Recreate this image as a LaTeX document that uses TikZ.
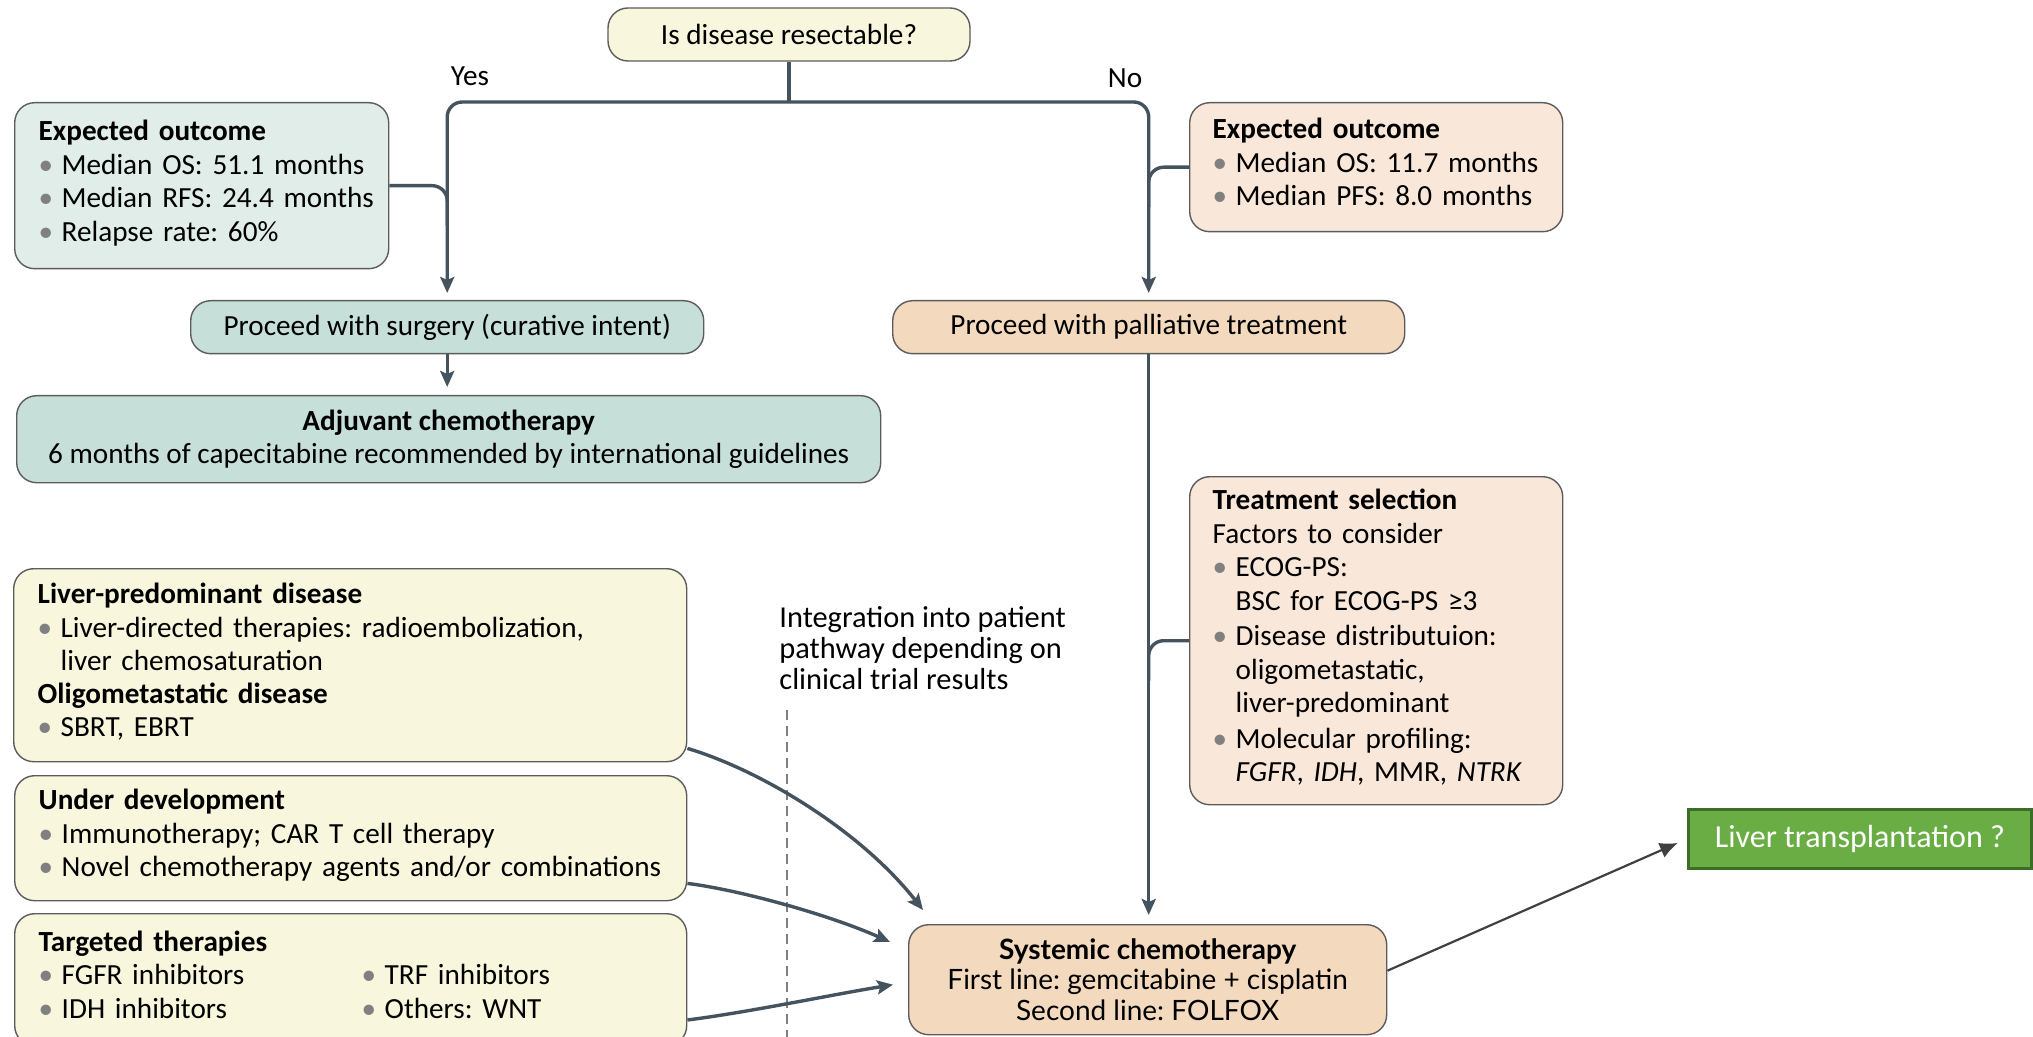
\documentclass[tikz,border=0pt]{standalone}
\usepackage{fontspec}
\setmainfont{Carlito}
\newfontfamily\latofont{Lato}
\usetikzlibrary{arrows.meta,calc}

\definecolor{flowgray}{HTML}{45535E}
\definecolor{boxline}{HTML}{5C5C5C}
\definecolor{dotgray}{HTML}{808080}
\definecolor{yellowfill}{HTML}{F8F6DC}
\definecolor{tealpale}{HTML}{E0EDE9}
\definecolor{tealfill}{HTML}{C6DFD9}
\definecolor{peachpale}{HTML}{F9E7DA}
\definecolor{peachfill}{HTML}{F3D9BE}
\definecolor{greenfill}{HTML}{6AAD45}
\definecolor{greenline}{HTML}{3C6E28}
\definecolor{arrowgray}{HTML}{404040}

\newcommand{\boxfont}{\frenchspacing\fontsize{14.6}{16.75}\selectfont}
% bullet line, later lines stay under the text
\newcommand{\dotitem}[1]{\par\noindent\makebox[11.5pt][l]{\textcolor{dotgray}{\textbullet}}%
  \begin{tabular}[t]{@{}l@{}}#1\end{tabular}}
\newcommand{\dotmark}{\makebox[11.5pt][l]{\textcolor{dotgray}{\textbullet}}}

\tikzset{
  box/.style={draw=boxline, line width=0.7pt, rounded corners=10pt, anchor=north west,
    inner xsep=12pt, inner ysep=0pt, align=left, font=\boxfont},
  midbox/.style={draw=boxline, line width=0.7pt, rounded corners=10pt, align=center,
    inner sep=0pt, font=\boxfont},
  flow/.style={draw=flowgray, line width=1.7pt},
  flowarrow/.style={flow, -{Stealth[length=8pt,width=7pt,inset=1.5pt]}},
  dashline/.style={draw=dotgray, line width=0.6pt, dash pattern=on 5pt off 3pt},
}

\begin{document}
\begin{tikzpicture}[x=0.5pt,y=-0.5pt]
  \useasboundingbox (0,0) rectangle (2033,1037);

  % Question
  \node[midbox, fill=yellowfill, minimum width=181pt, minimum height=26.5pt] (q) at (789,34.5) {Is disease resectable?};
  \node[font=\boxfont] (yes) at (470,76) {Yes};
  \node[font=\boxfont] (no) at (1125,78) {No};

  % Resectable branch
  \node[box, fill=tealpale, text width=163pt, minimum height=83pt] (outL) at (14,102) {%
    \textbf{Expected outcome}
    \dotitem{Median OS: 51.1 months}
    \dotitem{Median RFS: 24.4 months}
    \dotitem{Relapse rate: 60\%}};
  \node[midbox, fill=tealfill, minimum width=256.5pt, minimum height=26.5pt, anchor=north west] (surg) at (190,300) {Proceed with surgery (curative intent)};
  \node[midbox, fill=tealfill, minimum width=432pt, minimum height=43.5pt, anchor=north west] (adj) at (16,395) {%
    \textbf{Adjuvant chemotherapy}\\6 months of capecitabine recommended by international guidelines};

  % Palliative branch
  \node[box, fill=peachpale, text width=163.5pt, inner xsep=11.5pt, minimum height=64.5pt] (outR) at (1189,102) {%
    \textbf{Expected outcome}
    \dotitem{Median OS: 11.7 months}
    \dotitem{Median PFS: 8.0 months}};
  \node[midbox, fill=peachfill, minimum width=256pt, minimum height=26.5pt, anchor=north west] (pall) at (892,300) {Proceed with palliative treatment};
  \node[box, fill=peachpale, text width=163.5pt, inner xsep=11.5pt, minimum height=164pt] (trsel) at (1189,476) {%
    \textbf{Treatment selection}\\Factors to consider
    \dotitem{ECOG-PS:\\BSC for ECOG-PS ≥3}
    \dotitem{Disease distributuion:\\oligometastatic,\\liver-predominant}
    \dotitem{Molecular profiling:\\\textit{FGFR}, \textit{IDH}, MMR, \textit{NTRK}}};
  \node[midbox, fill=peachfill, minimum width=239pt, minimum height=55pt, anchor=north west,
    font=\latofont\frenchspacing\fontsize{14}{15.25}\selectfont] (sys) at (908,924) {%
    \textbf{Systemic chemotherapy}\\First line: gemcitabine + cisplatin\\Second line: FOLFOX};
  \node[draw=greenline, line width=1.4pt, fill=greenfill, text=white, anchor=north west,
    minimum width=171.5pt, minimum height=29.5pt, font=\fontsize{16}{18}\selectfont] (lt) at (1687,808) {Liver transplantation ?};

  % Other options
  \node[box, fill=yellowfill, text width=312.5pt, minimum height=96.5pt] (liverdis) at (13,568) {%
    \textbf{Liver-predominant disease}
    \dotitem{Liver-directed therapies: radioembolization,\\liver chemosaturation}
    \par\noindent\textbf{Oligometastatic disease}
    \dotitem{SBRT, EBRT}};
  \node[box, fill=yellowfill, text width=312pt, minimum height=62.5pt] (underdev) at (14,775) {%
    \textbf{Under development}
    \dotitem{Immunotherapy; CAR T cell therapy}
    \dotitem{Novel chemotherapy agents and/or combinations}};
  \node[box, fill=yellowfill, text width=312pt, minimum height=66pt] (targeted) at (14,913) {%
    \textbf{Targeted therapies}
    \dotitem{\makebox[150pt][l]{FGFR inhibitors}\dotmark TRF inhibitors}
    \dotitem{\makebox[150pt][l]{IDH inhibitors}\dotmark Others: WNT}};
  \node[anchor=north west, inner sep=0pt, align=left, font=\frenchspacing\fontsize{15.2}{15.5}\selectfont] (integ) at (779,606) {%
    Integration into patient\\pathway depending on\\clinical trial results};
  \draw[dashline] ($(integ.south west)+(8,20)$) -- ++(0,340);

  % Connectors
  \coordinate (fork) at (q.south |- 0,102);
  \draw[flow] (q) -- (fork);
  \draw[flowarrow, rounded corners=7.5pt, shorten >=3.5pt] (fork) -| (surg);
  \draw[flowarrow, rounded corners=7.5pt, shorten >=3.5pt] (fork) -| (pall);
  \draw[flow, rounded corners=7.5pt] (outL.east) -- (outL.east -| surg) -- ++(0,40);
  \draw[flow, rounded corners=7.5pt] (outR.west) -- (outR.west -| pall) -- ++(0,40);
  \draw[flow, rounded corners=7.5pt] (trsel.west) -- (trsel.west -| pall) -- ++(0,40);
  \draw[flowarrow, shorten >=4pt] (surg.south) -- (surg.south |- adj.north);
  \draw[flowarrow, shorten >=4.5pt] (pall.south) -- (pall.south |- sys.north);
  \draw[flowarrow] ($(liverdis.south east)+(0,-14)$) .. controls (760,770) and (860,830) .. ($(sys.north west)+(15,-14)$);
  \draw[flowarrow] ($(underdev.south east)+(0,-18)$) .. controls (740,890) and (830,915) .. ($(sys.north west)+(-18,18)$);
  \draw[flowarrow] ($(targeted.north east)+(0,107)$) .. controls (750,1012) and (830,995) .. ($(sys.west)+(-15,5)$);
  \draw[draw=arrowgray, line width=1.1pt, -{Latex[length=9pt,width=8pt]}, shorten >=5pt] ($(sys.east)+(0,-9)$) -- (lt.west);
\end{tikzpicture}
\end{document}
